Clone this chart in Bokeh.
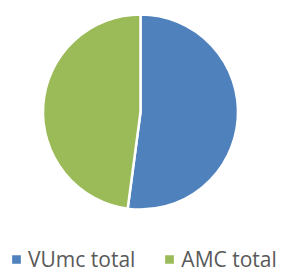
import math
from bokeh.plotting import figure
from bokeh.models import ColumnDataSource, Range1d, Legend, LegendItem
from bokeh.embed import file_html
from bokeh.resources import INLINE

# data
labels = ["VUmc total", "AMC total"]
values = [52.1, 47.9]
colors = ["#4F81BD", "#9BBB59"]

total = sum(values)
starts, ends = [], []
acc = 0.0
for v in values:
    starts.append(math.pi / 2 - 2 * math.pi * acc / total)
    acc += v
    ends.append(math.pi / 2 - 2 * math.pi * acc / total)

src = ColumnDataSource(dict(label=labels, value=values, color=colors,
                            start=starts, end=ends))

W, H = 283, 273
cx, cy = 140, 111.5  # pie centre in pixels from top-left of figure
p = figure(width=W, height=H, output_backend="svg", toolbar_location=None,
           x_range=Range1d(-cx, W - cx), y_range=Range1d(cy - H, cy),
           min_border=0)
p.axis.visible = False
p.grid.visible = False
p.outline_line_color = None
p.background_fill_color = "white"
p.border_fill_color = "white"

r = p.wedge(x=0, y=0, radius=97.5, start_angle="start", end_angle="end",
            direction="clock", fill_color="color", line_color="white",
            line_width=2.5, source=src)

legend = Legend(items=[LegendItem(label=labels[i], renderers=[r], index=i)
                       for i in range(len(labels))],
                orientation="horizontal", location=(9, 0),
                glyph_width=14, glyph_height=14, label_standoff=5, spacing=27,
                padding=0, margin=0, label_height=20,
                label_text_font="Open Sans", label_text_font_size="21px",
                label_text_color="#595959",
                border_line_color=None, background_fill_alpha=0)
p.add_layout(legend, "center")

open("out.html", "w").write(file_html(p, INLINE))
